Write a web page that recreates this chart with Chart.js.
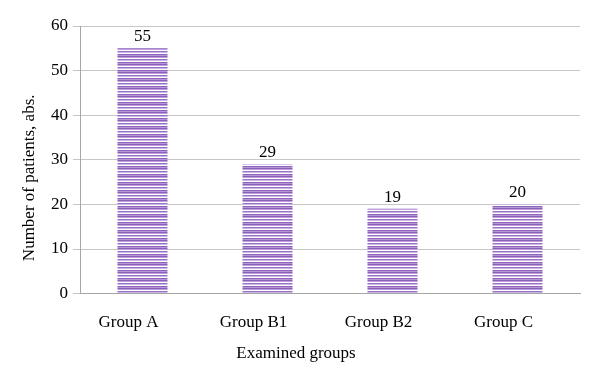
<!DOCTYPE html>
<html lang="en">
<head>
    <meta charset="UTF-8">
    <title>Number of patients by examined group</title>
    <script src="https://cdn.jsdelivr.net/npm/chart.js"></script>
    <style>
        html, body { margin: 0; padding: 0; background: #ffffff; }
    </style>
</head>
<body>
    <canvas id="chart" width="600" height="375"></canvas>
<script>
// datos
const groups = ['Group A', 'Group B1', 'Group B2', 'Group C'];
const patients = [55, 29, 19, 20];
const yTicks = [0, 10, 20, 30, 40, 50, 60];
const xTitle = 'Examined groups';
const yTitle = 'Number of patients, abs.';

// relleno a rayas horizontales (tonos morados)
function stripePattern() {
    const rows = ['#8b5fba', '#bca0dc', '#ffffff', '#9a73c6', '#cab4e5', '#ffffff', '#8e63bc', '#b597d6'];
    const c = document.createElement('canvas');
    c.width = 4;
    c.height = rows.length;
    const g = c.getContext('2d');
    rows.forEach((col, i) => {
        g.fillStyle = col;
        g.fillRect(0, i, 4, 1);
    });
    return g.createPattern(c, 'repeat');
}

const serif = '"Liberation Serif", "Times New Roman", serif';

// etiquetas de valor encima de cada barra
const valueLabels = {
    id: 'valueLabels',
    afterDatasetsDraw(chart) {
        const ctx = chart.ctx;
        const meta = chart.getDatasetMeta(0);
        ctx.save();
        ctx.font = '17px ' + serif;
        ctx.fillStyle = '#000000';
        ctx.textAlign = 'center';
        ctx.textBaseline = 'bottom';
        meta.data.forEach((bar, i) => {
            ctx.fillText(patients[i], bar.x, bar.y - 3);
        });
        ctx.restore();
    }
};

// titulos de los ejes (en el original no estan centrados en el area del grafico)
const axisTitles = {
    id: 'axisTitles',
    afterDraw(chart) {
        const ctx = chart.ctx;
        const area = chart.chartArea;
        ctx.save();
        ctx.font = '17px ' + serif;
        ctx.fillStyle = '#000000';
        ctx.textAlign = 'center';
        ctx.textBaseline = 'middle';
        ctx.fillText(xTitle, chart.width / 2 - 4, area.bottom + 60);
        ctx.translate(30, (area.top + area.bottom) / 2 + 18);
        ctx.rotate(-Math.PI / 2);
        ctx.fillText(yTitle, 0, 0);
        ctx.restore();
    }
};

new Chart(document.getElementById('chart').getContext('2d'), {
    type: 'bar',
    data: {
        labels: groups,
        datasets: [{
            data: patients,
            backgroundColor: stripePattern(),
            borderWidth: 0,
            barPercentage: 0.4,
            categoryPercentage: 1.0
        }]
    },
    options: {
        responsive: false,
        animation: false,
        devicePixelRatio: 1,
        layout: { padding: { top: 26, right: 20, bottom: 42, left: 46 } },
        plugins: {
            legend: { display: false },
            tooltip: { enabled: false }
        },
        scales: {
            x: {
                // marcas invisibles, solo para separar las etiquetas del eje
                grid: { display: true, drawOnChartArea: false, color: 'rgba(0,0,0,0)', tickLength: 19 },
                border: { color: '#a6a6a6' },
                ticks: { color: '#000', autoSkip: false, maxRotation: 0, labelOffset: -14, font: { family: serif, size: 17 }, padding: 0 }
            },
            y: {
                min: 0,
                max: 60,
                afterBuildTicks(axis) { axis.ticks = yTicks.map(v => ({ value: v })); },
                grid: { color: '#c6c6c6', tickLength: 7 },
                border: { color: '#a6a6a6' },
                ticks: { color: '#000', font: { family: serif, size: 17 }, padding: 5 }
            }
        }
    },
    plugins: [valueLabels, axisTitles]
});
</script>
</body>
</html>
